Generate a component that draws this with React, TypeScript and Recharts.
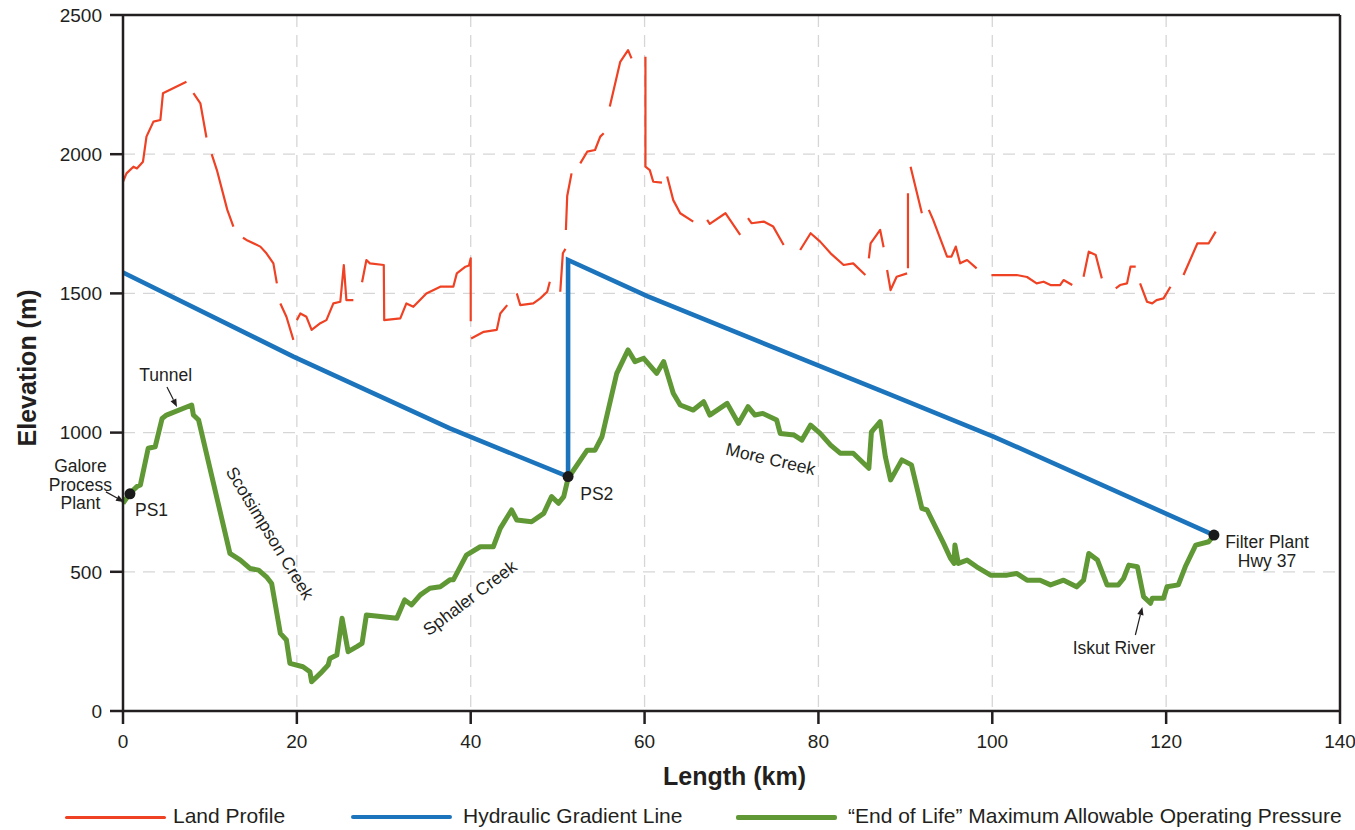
import React from 'react';
import {
  LineChart,
  Line,
  XAxis,
  YAxis,
  CartesianGrid,
  ReferenceLine,
  ReferenceDot,
  Legend,
} from 'recharts';

// ---------------- DATA ----------------
// Land profile (km, elevation m); null = visible break in the red line
const landKm = [
  0, 0.4, 1.2, 1.6, 2.3, 2.7, 3.5, 4.3, 4.6, 5.0, 7.3, 7.7, 8.1, 8.9, 9.6, 9.9, 10.2, 10.8, 12.0, 12.7, 13.2,
  13.8, 14.2, 15.8, 16.5, 17.3, 17.7, 17.9, 18.1, 18.8, 19.6, 19.8, 20.0, 20.4, 21.1, 21.7, 22.7, 23.4, 24.2,
  25.0, 25.4, 25.7, 26.5, 27.0, 27.5, 28.0, 28.4, 30.0, 30.05, 31.9, 32.6, 33.4, 34.9, 36.5, 38.0, 38.4, 39.4,
  39.8, 40.0, 40.0, 40.02, 40.05, 41.5, 43.0, 43.4, 44.2, 44.7, 45.3, 45.7, 47.2, 48.0, 48.8, 49.1, 49.7, 50.3,
  50.6, 50.9, 50.9, 50.95, 51.1, 51.6, 52.1, 52.6, 53.4, 54.3, 54.9, 55.3, 55.6, 56.0, 57.2, 58.1, 58.5, 59.3,
  60.1, 60.1, 60.6, 61.0, 62.0, 62.3, 62.6, 63.3, 64.1, 65.6, 66.4, 67.2, 67.5, 69.3, 71.0, 71.4, 71.9, 72.3,
  73.7, 74.8, 76.0, 77.0, 77.9, 79.1, 80.2, 81.4, 82.9, 84.0, 85.4, 85.6, 85.8, 86.0, 87.1, 87.5, 87.7, 87.9,
  88.3, 89.0, 90.2, 90.25, 90.3, 90.3, 90.45, 90.6, 91.9, 92.3, 92.7, 93.2, 94.8, 95.3, 95.8, 96.3, 97.1, 98.2,
  99.0, 99.9, 101.3, 102.8, 104.0, 105.1, 105.9, 106.7, 107.8, 108.2, 109.2, 109.8, 110.5, 111.1, 111.9,
  112.6, 113.4, 114.2, 114.7, 115.5, 115.9, 116.5, 116.8, 117.0, 117.8, 118.4, 118.9, 119.7, 120.5, 121.2,
  122.0, 123.6, 124.9, 125.7,
];
const landElev = [
  1901, 1931, 1955, 1949, 1973, 2063, 2117, 2123, 2219, 2225, 2260, null, 2219, 2183, 2060, null, 2000, 1943,
  1800, 1740, null, 1700, 1692, 1668, 1644, 1608, 1536, null, 1464, 1416, 1333, null, 1404, 1428, 1416, 1369,
  1393, 1404, 1464, 1470, 1602, 1476, 1476, null, 1540, 1620, 1608, 1602, 1404, 1410, 1464, 1452, 1500, 1524,
  1524, 1572, 1596, 1600, 1626, 1400, null, 1338, 1362, 1369, 1428, 1458, null, 1500, 1458, 1464, 1482, 1506,
  1542, null, 1506, 1644, 1660, null, 1728, 1850, 1931, null, 1967, 2009, 2015, 2063, 2075, null, 2171, 2332,
  2374, 2344, null, 2350, 1955, 1943, 1901, 1898, null, 1920, 1835, 1788, 1758, null, 1764, 1750, 1788, 1710,
  null, 1770, 1752, 1758, 1740, 1674, null, 1656, 1716, 1686, 1644, 1602, 1608, 1566, null, 1626, 1680, 1728,
  1666, null, 1584, 1512, 1560, 1572, null, 1590, 1860, null, 1955, 1788, null, 1800, 1764, 1632, 1632, 1668,
  1608, 1620, 1590, null, 1566, 1566, 1566, 1559, 1536, 1542, 1530, 1530, 1548, 1530, null, 1560, 1650, 1638,
  1554, null, 1518, 1530, 1536, 1596, 1596, null, 1536, 1470, 1464, 1476, 1482, 1524, null, 1566, 1680, 1680,
  1722,
];

// Hydraulic gradient line
const hydKm = [0, 19.6, 37.6, 51.2, 51.2, 60.3, 88.0, 100.2, 125.5];
const hydElev = [1575, 1273, 1015, 842, 1620, 1490, 1140, 985, 632];

// "End of Life" maximum allowable operating pressure
const maopKm = [
  0, 0.8, 1.6, 2.0, 2.9, 3.7, 4.5, 5.0, 7.9, 8.1, 8.7, 12.3, 13.5, 14.6, 15.6, 16.5, 17.1, 18.1, 18.8, 19.2,
  20.7, 21.5, 21.7, 22.7, 23.6, 23.8, 24.6, 25.2, 25.9, 26.9, 27.5, 28.0, 31.5, 32.4, 33.2, 34.2, 35.3, 36.5,
  37.6, 38.0, 39.5, 41.1, 42.6, 43.4, 44.7, 45.3, 47.0, 48.4, 49.3, 50.1, 50.7, 51.2, 53.4, 54.3, 55.1, 56.8,
  58.1, 58.9, 59.9, 61.4, 62.2, 63.3, 64.1, 65.6, 66.8, 67.5, 69.5, 70.8, 71.9, 72.7, 73.6, 75.2, 75.6, 77.2,
  78.1, 79.1, 80.2, 81.4, 82.5, 84.0, 85.8, 86.1, 87.1, 87.7, 88.3, 89.6, 90.7, 91.9, 92.5, 94.4, 95.2, 95.6,
  95.7, 96.1, 97.1, 98.2, 99.8, 101.7, 102.8, 104.0, 105.5, 106.7, 108.2, 109.7, 110.5, 111.1, 112.1, 113.2,
  114.5, 115.1, 115.7, 116.7, 117.4, 118.2, 118.4, 119.7, 120.1, 121.4, 122.2, 123.4, 124.9, 125.5,
];
const maopElev = [
  746, 782, 806, 812, 944, 949, 1051, 1063, 1099, 1063, 1045, 566, 542, 512, 506, 482, 458, 279, 255, 171, 159,
  141, 105, 135, 165, 189, 201, 333, 213, 231, 243, 345, 333, 399, 381, 417, 441, 446, 471, 471, 560, 590, 590,
  656, 722, 686, 680, 710, 770, 746, 770, 836, 937, 937, 985, 1213, 1297, 1255, 1267, 1213, 1255, 1141, 1099,
  1081, 1111, 1063, 1105, 1033, 1093, 1063, 1069, 1045, 997, 991, 973, 1027, 997, 955, 926, 926, 872, 1003,
  1039, 913, 830, 902, 884, 728, 722, 602, 548, 530, 596, 530, 542, 518, 488, 488, 494, 470, 470, 453, 470, 446,
  470, 566, 542, 453, 453, 476, 524, 518, 411, 387, 405, 405, 446, 453, 518, 596, 608, 632,
];

// Stations (black dots)
const stationKm = [0.8, 51.2, 125.5];
const stationElev = [780, 842, 632];

// Text annotations
const noteText = [
  ['Galore', 'Process', 'Plant'],
  ['PS1'],
  ['Tunnel'],
  ['Scotsimpson Creek'],
  ['Sphaler Creek'],
  ['PS2'],
  ['More Creek'],
  ['Filter Plant', 'Hwy 37'],
  ['Iskut River'],
];
const noteKm = [-4.9, 1.38, 4.9, 16.9, 39.9, 52.6, 74.5, 131.6, 114.0];
const noteElev = [858, 700, 1185, 639, 406, 758, 905, 585, 205];

// Arrows [fromKm, fromElev, toKm, toElev]
const arrowFromKm = [-1.96, 5.06, 116.46];
const arrowFromElev = [787, 1164, 273];
const arrowToKm = [0.12, 6.21, 117.26];
const arrowToElev = [751, 1092, 374];

const xTicks = [0, 20, 40, 60, 80, 100, 120, 140];
const yTicks = [0, 500, 1000, 1500, 2000, 2500];

const seriesNames = [
  'Land Profile',
  'Hydraulic Gradient Line',
  '\u201CEnd of Life\u201D Maximum Allowable Operating Pressure',
];

// ---------------- STYLES ----------------
const FONT = '"Liberation Sans", Arial, Helvetica, sans-serif';
const INK = '#231f20';
const RED = '#ef4123';
const BLUE = '#1c75bc';
const GREEN = '#5f9834';
const seriesColors = [RED, BLUE, GREEN];
const seriesWidths = [2.2, 4.6, 5];
const legendLineX = [65, 351, 736];
const legendTextX = [173, 463, 848];
// rotation (deg) and text anchor of each annotation
const noteAngle = [0, 0, 0, 58.5, -37, 0, 13, 0, 0];
const noteAnchor = ['middle', 'start', 'middle', 'middle', 'middle', 'start', 'middle', 'middle', 'middle'];
const noteBaseline = ['auto', 'auto', 'auto', 'central', 'central', 'auto', 'central', 'auto', 'auto'];

const zip = (xs: number[], ys: (number | null)[]) => xs.map((km, i) => ({ km, elev: ys[i] }));
const landData = zip(landKm, landElev);
const hydData = zip(hydKm, hydElev);
const maopData = zip(maopKm, maopElev);

const renderArrow = (p: any) => {
  const { x1, y1, x2, y2 } = p;
  if ([x1, y1, x2, y2].some((v) => typeof v !== 'number' || isNaN(v))) return <g />;
  const ang = Math.atan2(y2 - y1, x2 - x1);
  const L = 8;
  const W = 3.2;
  const bx = x2 - L * Math.cos(ang);
  const by = y2 - L * Math.sin(ang);
  const px = -Math.sin(ang) * W;
  const py = Math.cos(ang) * W;
  return (
    <g>
      <line x1={x1} y1={y1} x2={bx} y2={by} stroke={INK} strokeWidth={1.2} />
      <path d={`M${x2},${y2} L${bx + px},${by + py} L${bx - px},${by - py} Z`} fill={INK} />
    </g>
  );
};

const makeNote = (i: number) => (p: any) => {
  const { cx, cy } = p;
  const lines = noteText[i];
  const ang = noteAngle[i];
  return (
    <text
      x={cx}
      y={cy}
      fontFamily={FONT}
      fontSize={17.5}
      fill={INK}
      textAnchor={noteAnchor[i] as any}
      dominantBaseline={noteBaseline[i] as any}
      transform={ang ? `rotate(${ang} ${cx} ${cy})` : undefined}
    >
      {lines.map((t, k) => (
        <tspan key={k} x={cx} dy={k === 0 ? 0 : 18.5}>
          {t}
        </tspan>
      ))}
    </text>
  );
};

const renderLegend = () => (
  <div style={{ position: 'relative', width: 1355, height: 40, fontFamily: FONT }}>
    {seriesNames.map((name, i) => (
      <React.Fragment key={name}>
        <div
          style={{
            position: 'absolute',
            left: legendLineX[i],
            top: 27 - seriesWidths[i] / 2,
            width: 101,
            height: Math.max(3.5, seriesWidths[i]),
            background: seriesColors[i],
            borderRadius: 2,
          }}
        />
        <div
          style={{
            position: 'absolute',
            left: legendTextX[i],
            top: 14,
            fontSize: 21,
            lineHeight: '24px',
            color: INK,
            whiteSpace: 'nowrap',
          }}
        >
          {name}
        </div>
      </React.Fragment>
    ))}
  </div>
);

const yLabel = (p: any) => {
  const vb = p.viewBox || { x: 0, y: 15, width: 123, height: 696 };
  const cx = vb.x + 27;
  const cy = vb.y + vb.height / 2 + 5;
  return (
    <text
      x={cx}
      y={cy}
      transform={`rotate(-90 ${cx} ${cy})`}
      textAnchor="middle"
      dominantBaseline="central"
      fontFamily={FONT}
      fontWeight="bold"
      fontSize={25}
      fill={INK}
    >
      Elevation (m)
    </text>
  );
};

const xLabel = (p: any) => {
  const vb = p.viewBox || { x: 123, y: 711, width: 1217, height: 79 };
  return (
    <text
      x={vb.x + vb.width / 2 + 3}
      y={vb.y + 74}
      textAnchor="middle"
      fontFamily={FONT}
      fontWeight="bold"
      fontSize={25}
      fill={INK}
    >
      Length (km)
    </text>
  );
};

export default function App() {
  return (
    <div style={{ position: 'absolute', left: 0, top: 0, width: 1355, height: 830, background: '#fff' }}>
      <LineChart
        width={1355}
        height={830}
        margin={{ top: 15, right: 15, left: 0, bottom: 0 }}
        style={{ fontFamily: FONT }}
      >
        <CartesianGrid stroke="#d6d6d6" strokeDasharray="12 8" strokeWidth={1.3} />
        <XAxis
          dataKey="km"
          type="number"
          domain={[0, 140]}
          ticks={xTicks}
          allowDuplicatedCategory={false}
          height={79}
          tickSize={13}
          tickMargin={11}
          axisLine={{ stroke: INK, strokeWidth: 2.5 }}
          tickLine={{ stroke: INK, strokeWidth: 2.5 }}
          tick={{ fill: INK, fontSize: 19, fontFamily: FONT }}
          label={xLabel}
        />
        <YAxis
          type="number"
          domain={[0, 2500]}
          ticks={yTicks}
          width={123}
          tickSize={13}
          tickMargin={8}
          axisLine={{ stroke: INK, strokeWidth: 2.5 }}
          tickLine={{ stroke: INK, strokeWidth: 2.5 }}
          tick={{ fill: INK, fontSize: 19, fontFamily: FONT }}
          label={yLabel}
        />
        <ReferenceLine y={2500} stroke={INK} strokeWidth={2.5} />
        <ReferenceLine x={140} stroke={INK} strokeWidth={2.5} />

        <Line
          data={landData}
          dataKey="elev"
          name={seriesNames[0]}
          type="linear"
          stroke={RED}
          strokeWidth={seriesWidths[0]}
          dot={false}
          activeDot={false}
          connectNulls={false}
          strokeLinejoin="round"
          isAnimationActive={false}
        />
        <Line
          data={hydData}
          dataKey="elev"
          name={seriesNames[1]}
          type="linear"
          stroke={BLUE}
          strokeWidth={seriesWidths[1]}
          dot={false}
          activeDot={false}
          isAnimationActive={false}
        />
        <Line
          data={maopData}
          dataKey="elev"
          name={seriesNames[2]}
          type="linear"
          stroke={GREEN}
          strokeWidth={seriesWidths[2]}
          strokeLinejoin="round"
          dot={false}
          activeDot={false}
          isAnimationActive={false}
        />

        {stationKm.map((km, i) => (
          <ReferenceDot key={`st${i}`} x={km} y={stationElev[i]} r={5.5} fill="#1a1a1a" stroke="none" ifOverflow="visible" />
        ))}

        {arrowFromKm.map((km, i) => (
          <ReferenceLine
            key={`ar${i}`}
            segment={[
              { x: km, y: arrowFromElev[i] },
              { x: arrowToKm[i], y: arrowToElev[i] },
            ]}
            ifOverflow="visible"
            stroke={INK}
            shape={renderArrow}
          />
        ))}

        {noteKm.map((km, i) => (
          <ReferenceDot key={`nt${i}`} x={km} y={noteElev[i]} r={0} ifOverflow="visible" shape={makeNote(i)} />
        ))}

        <Legend verticalAlign="bottom" height={40} wrapperStyle={{ left: 0, bottom: 0, width: 1355 }} content={renderLegend} />
      </LineChart>
    </div>
  );
}
